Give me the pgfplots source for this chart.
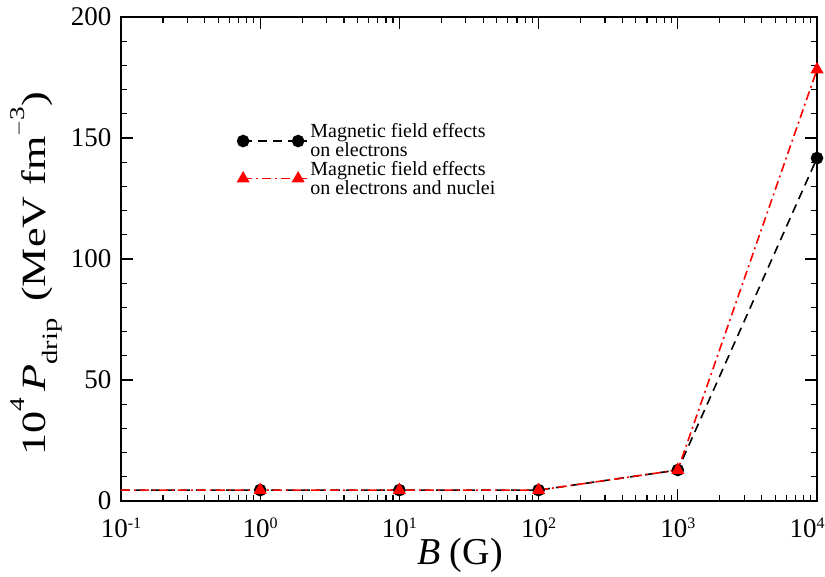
\documentclass[border=0pt]{standalone}
\usepackage{fontspec}
\setmainfont{Liberation Serif}
\newfontfamily\tallfont[FakeStretch=1.3]{Liberation Serif}
\usepackage{pgfplots}
\pgfplotsset{compat=1.18}

% drip pressure (in units of 1e-4 MeV fm^-3) versus magnetic field
\pgfplotstableread{
B      P
0.1    4.5
1      4.5
10     4.5
100    4.5
1000   12.8
10000  141.7
}\electrons
\pgfplotstableread{
B      P
0.1    4.5
1      4.5
10     4.5
100    4.5
1000   12.8
10000  178.3
}\nuclei

% raised exponent for tick labels
\newcommand{\supx}[1]{\raisebox{0.75ex}{\fontsize{16}{16}\selectfont #1}}
% raised exponent for the y-axis title
\newcommand{\supl}[1]{\raisebox{0.62em}{\fontsize{21}{21}\selectfont #1}}

\begin{document}
\begin{tikzpicture}
\begin{axis}[
  scale only axis,
  width=696pt, height=484pt,
  xmode=log, xmin=0.1, xmax=10000,
  ymin=0, ymax=200,
  xtick={0.1,1,10,100,1000,10000},
  xticklabels={10\supx{-1},10\supx{0},10\supx{1},10\supx{2},10\supx{3},10\supx{4}\hspace*{20pt}},
  ytick={0,50,100,150,200},
  minor y tick num=4,
  tick align=inside,
  major tick length=12pt, minor tick length=6pt,
  axis line style={line width=1.6pt},
  every tick/.style={line width=1.2pt, black},
  tick label style={font=\fontsize{27}{27}\selectfont},
  xticklabel style={yshift=-13pt},
  yticklabel style={xshift=-6pt},
  /pgf/number format/assume math mode=true,
  xlabel={\textit{B} (G)},
  ylabel={10\supl{4}\,\textit{P}\raisebox{-0.35em}{\fontsize{22}{22}\selectfont drip}\, (MeV fm\supl{$-$3})},
  xlabel style={font=\fontsize{38}{38}\selectfont, yshift=6pt, xshift=-9pt},
  ylabel style={font=\fontsize{34}{34}\tallfont, at={(ticklabel cs:0.47)}, yshift=2pt},
  legend image code/.code={
    \draw[#1,mark=none] (0pt,0pt) -- (55pt,0pt);
    \draw[#1,only marks,mark indices={1,2}] plot coordinates {(0pt,0pt) (55pt,0pt)};
    \path (55pt,0pt) -- (66pt,0pt);
  },
  legend style={draw=none, fill=none, at={(0.163,0.785)}, anchor=north west,
    nodes={align=left, font=\fontsize{20}{19}\selectfont, inner sep=0.5pt},
    row sep=2pt},
  legend cell align=left,
  clip=false,
]
\addplot[black, line width=1.6pt, dash pattern=on 9pt off 6pt,
  mark=*, mark size=5.5pt, mark options={solid}, mark indices={2,3,4,5,6}]
  table[x=B,y=P] {\electrons};
\addlegendentry{Magnetic field effects\\on electrons}
\addplot[red, line width=1.6pt, dash pattern=on 9pt off 4pt on 2pt off 4pt,
  mark=triangle*, mark size=6pt, mark options={solid}, mark indices={2,3,4,5,6}]
  table[x=B,y=P] {\nuclei};
\addlegendentry{Magnetic field effects\\on electrons and nuclei}
\end{axis}
\pgfresetboundingbox
\path[use as bounding box] (-121pt,-75pt) rectangle (704pt,501pt);
\end{tikzpicture}
\end{document}
